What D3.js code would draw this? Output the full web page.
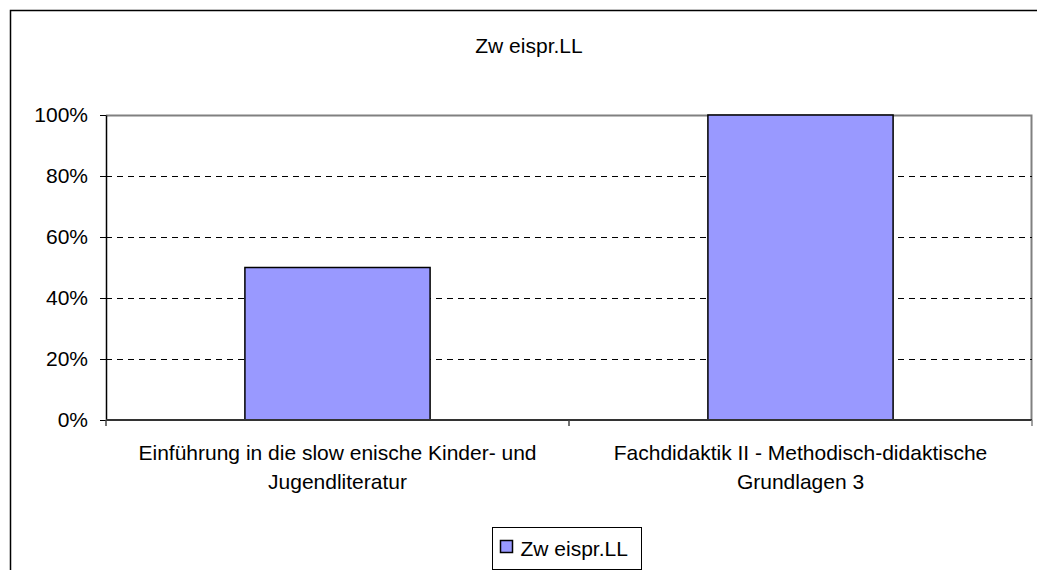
<!DOCTYPE html>
<html>
<head>
<meta charset="utf-8">
<script src="https://d3js.org/d3.v7.min.js"></script>
<style>
  body { margin: 0; background: #fff; }
  text { font-family: "Liberation Sans", Arial, sans-serif; fill: #000; }
</style>
</head>
<body>
<div class="chart"></div>
<script>
// chart data
var title = "Zw eispr.LL";
var seriesName = "Zw eispr.LL";
var categories = [
  ["Einführung in die slow enische Kinder- und", "Jugendliteratur"],
  ["Fachdidaktik II - Methodisch-didaktische", "Grundlagen 3"]
];
var values = [0.5, 1.0];
var yTicks = [0, 0.2, 0.4, 0.6, 0.8, 1.0];

var svgWidth = 1037;
var svgHeight = 570;
var fontSize = "21px";

var margin = { top: 115, right: 5, bottom: 150, left: 106 };
var width = svgWidth - margin.left - margin.right;
var height = svgHeight - margin.top - margin.bottom;

var svg = d3.select(".chart")
  .append("svg")
  .attr("width", svgWidth)
  .attr("height", svgHeight);

// outer chart border
svg.append("rect")
  .attr("x", 10.5)
  .attr("y", 10.5)
  .attr("width", svgWidth + 10)
  .attr("height", svgHeight + 10)
  .attr("fill", "none")
  .attr("stroke", "#000")
  .attr("stroke-width", 1.5);

// title
svg.append("text")
  .attr("x", 529)
  .attr("y", 53)
  .attr("text-anchor", "middle")
  .attr("font-size", fontSize)
  .text(title);

var chartGroup = svg.append("g")
  .attr("transform", `translate(${margin.left}, ${margin.top})`);

var xBand = d3.scaleBand()
  .domain(d3.range(categories.length))
  .range([0, width])
  .paddingInner(0)
  .paddingOuter(0);

var yLinearScale = d3.scaleLinear()
  .domain([0, 1])
  .range([height, 0]);

// plot area border (grey, top and right)
chartGroup.append("path")
  .attr("d", `M0,0.5H${width - 0.5}V${height}`)
  .attr("fill", "none")
  .attr("stroke", "#808080")
  .attr("stroke-width", 2);

// dashed gridlines
chartGroup.selectAll(".grid")
  .data(yTicks.filter(d => d > 0 && d < 1))
  .enter()
  .append("line")
  .attr("x1", 0)
  .attr("x2", width)
  .attr("y1", d => Math.round(yLinearScale(d)) + 0.5)
  .attr("y2", d => Math.round(yLinearScale(d)) + 0.5)
  .attr("stroke", "#000")
  .attr("stroke-dasharray", "6,5");

// bars
var barW = xBand.bandwidth() * 0.4;
chartGroup.selectAll(".bar")
  .data(values)
  .enter()
  .append("rect")
  .attr("x", (d, i) => xBand(i) + (xBand.bandwidth() - barW) / 2)
  .attr("y", d => yLinearScale(d))
  .attr("width", barW)
  .attr("height", d => height - yLinearScale(d))
  .attr("fill", "#9999ff")
  .attr("stroke", "#000")
  .attr("stroke-width", 1.5);

// y axis
var leftAxis = d3.axisLeft(yLinearScale)
  .tickValues(yTicks)
  .tickFormat(d3.format(".0%"))
  .tickSizeInner(6)
  .tickSizeOuter(0)
  .tickPadding(12);

var yAxisG = chartGroup.append("g").call(leftAxis);
yAxisG.select(".domain").attr("stroke", "#000").attr("stroke-width", 1.5);
yAxisG.selectAll(".tick line").attr("stroke", "#000");
yAxisG.selectAll("text")
  .attr("font-size", fontSize)
  .attr("font-family", "Liberation Sans, Arial, sans-serif")
  .attr("fill", "#000");

// x axis line and ticks at category boundaries
chartGroup.append("line")
  .attr("x1", 0)
  .attr("x2", width)
  .attr("y1", height)
  .attr("y2", height)
  .attr("stroke", "#333")
  .attr("stroke-width", 2);

chartGroup.selectAll(".xtick")
  .data(d3.range(categories.length + 1))
  .enter()
  .append("line")
  .attr("x1", d => d * xBand.bandwidth())
  .attr("x2", d => d * xBand.bandwidth())
  .attr("y1", height)
  .attr("y2", height + 6)
  .attr("stroke", d => d === categories.length ? "#808080" : "#444")
  .attr("stroke-width", 1.5);

// category labels
chartGroup.selectAll(".xlabel")
  .data(categories)
  .enter()
  .append("text")
  .attr("text-anchor", "middle")
  .attr("font-size", fontSize)
  .attr("transform", (d, i) => `translate(${xBand(i) + xBand.bandwidth() / 2}, ${height + 40})`)
  .selectAll("tspan")
  .data(d => d)
  .enter()
  .append("tspan")
  .attr("x", 0)
  .attr("dy", (d, i) => i === 0 ? 0 : 29)
  .text(d => d);

// legend
var legend = svg.append("g")
  .attr("transform", "translate(492.5, 527.5)");

legend.append("rect")
  .attr("width", 149)
  .attr("height", 42)
  .attr("fill", "#fff")
  .attr("stroke", "#000");

legend.append("rect")
  .attr("x", 8)
  .attr("y", 13)
  .attr("width", 12)
  .attr("height", 12)
  .attr("fill", "#9999ff")
  .attr("stroke", "#000")
  .attr("stroke-width", 1.5);

legend.append("text")
  .attr("x", 28)
  .attr("y", 28)
  .attr("font-size", fontSize)
  .text(seriesName);
</script>
</body>
</html>
